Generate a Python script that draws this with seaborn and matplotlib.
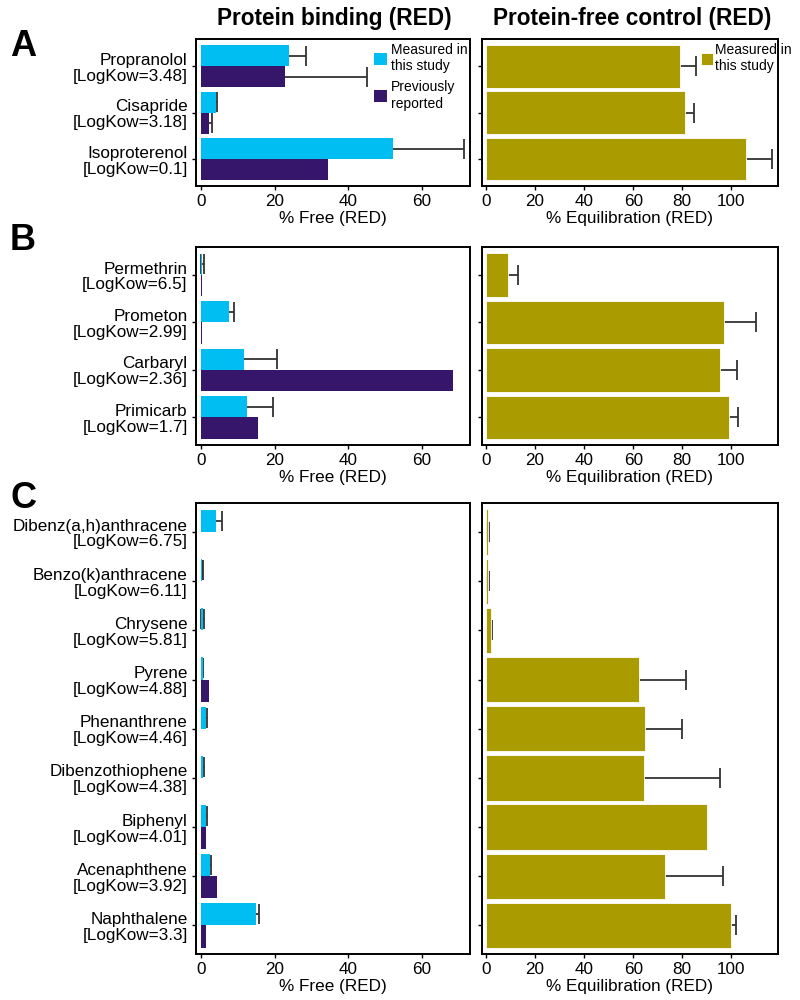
import numpy as np
import pandas as pd
import matplotlib
matplotlib.use("Agg")
import matplotlib.pyplot as plt
import seaborn as sns

sns.set_theme(style="ticks")
plt.rcParams['font.family'] = ['Liberation Sans', 'DejaVu Sans']
plt.rcParams['text.color'] = 'black'
plt.rcParams['axes.labelcolor'] = 'black'
plt.rcParams['xtick.color'] = 'black'
plt.rcParams['ytick.color'] = 'black'

nan = np.nan

# ---------------- data ----------------
A_names = ["Propranolol", "Cisapride", "Isoproterenol"]
A_logkow = ["3.48", "3.18", "0.1"]
A_meas = [23.8, 4.1, 52.0]
A_meas_err = [4.8, 0.3, 19.4]
A_prev = [22.7, 2.2, 34.6]
A_prev_err = [22.3, 0.8, nan]
A_equil = [79.2, 81.2, 106.0]
A_equil_err = [6.5, 3.7, 10.6]

B_names = ["Permethrin", "Prometon", "Carbaryl", "Primicarb"]
B_logkow = ["6.5", "2.99", "2.36", "1.7"]
B_meas = [0.4, 7.6, 11.6, 12.6]
B_meas_err = [0.4, 1.4, 9.0, 7.1]
B_prev = [0.2, 0.2, 68.4, 15.6]
B_prev_err = [nan, nan, nan, nan]
B_equil = [9.1, 97.1, 95.5, 99.2]
B_equil_err = [3.8, 12.9, 6.8, 3.5]

C_names = ["Dibenz(a,h)anthracene", "Benzo(k)anthracene", "Chrysene", "Pyrene",
           "Phenanthrene", "Dibenzothiophene", "Biphenyl", "Acenaphthene", "Naphthalene"]
C_logkow = ["6.75", "6.11", "5.81", "4.88", "4.46", "4.38", "4.01", "3.92", "3.3"]
C_meas = [4.0, 0.4, 0.5, 0.5, 1.3, 0.5, 1.4, 2.4, 15.0]
C_meas_err = [1.8, 0.2, 0.5, 0.2, 0.3, 0.3, 0.3, 0.4, 0.7]
C_prev = [nan, nan, nan, 2.3, nan, nan, 1.5, 4.5, 1.5]
C_prev_err = [nan, nan, nan, nan, nan, nan, nan, nan, nan]
C_equil = [1.0, 0.8, 1.9, 62.4, 64.8, 64.4, 90.1, 72.8, 99.9]
C_equil_err = [0.4, 0.3, 0.6, 19.1, 14.9, 31.1, nan, 23.6, 2.0]

SOURCES = ["Measured in\nthis study", "Previously\nreported"]
LEFT_TICKS = [0, 20, 40, 60]
RIGHT_TICKS = [0, 20, 40, 60, 80, 100]

CYAN = "#00BEF2"
PURPLE = "#35166B"
OLIVE = "#AA9B00"
ERRC = "#333333"

fig = plt.figure(figsize=(8, 10), dpi=100)
fig.patch.set_facecolor("white")


def px_axes(x0, x1, top, bottom):
    return fig.add_axes([x0 / 800, 1 - bottom / 1000, (x1 - x0) / 800, (bottom - top) / 1000])


def style_axes(ax, n):
    for s in ax.spines.values():
        s.set_visible(True)
        s.set_color("black")
        s.set_linewidth(1.4)
    ax.tick_params(axis="both", direction="out", length=3, width=1, colors="black",
                   labelsize=12.3, pad=3)
    ax.set_ylim(n - 1 + 0.58, -0.59)
    ax.set_ylabel("")
    ax.set_facecolor("white")


def add_errors(ax, df, hue_levels):
    for cont, hue in zip(ax.containers, hue_levels):
        for p in cont.patches:
            w = p.get_width()
            yc = p.get_y() + p.get_height() / 2
            if not np.isfinite(w):
                continue
            idx = int(round(yc))
            row = df[(df["idx"] == idx) & (df["source"] == hue)]
            if row.empty:
                continue
            e = row["err"].values[0]
            if np.isfinite(e):
                ax.errorbar(w, yc, xerr=e, fmt="none", ecolor=ERRC, elinewidth=1.3,
                            capsize=7, capthick=1.3, zorder=0.9)


panels = [
    ("A", A_names, A_logkow, A_meas, A_meas_err, A_prev, A_prev_err, A_equil, A_equil_err, 39, 186, 46),
    ("B", B_names, B_logkow, B_meas, B_meas_err, B_prev, B_prev_err, B_equil, B_equil_err, 247, 445, 240),
    ("C", C_names, C_logkow, C_meas, C_meas_err, C_prev, C_prev_err, C_equil, C_equil_err, 503, 954, 499),
]

for (letter, names, logkow, meas, meas_err, prev, prev_err, equil, equil_err,
     top, bottom, ly) in panels:
    n = len(names)
    labels = [f"{nm}\n[LogKow={k}]" for nm, k in zip(names, logkow)]

    # ---- left: protein binding ----
    df_left = pd.DataFrame({
        "compound": labels * 2,
        "idx": list(range(n)) * 2,
        "source": [SOURCES[0]] * n + [SOURCES[1]] * n,
        "value": list(meas) + list(prev),
        "err": list(meas_err) + list(prev_err),
    })
    axL = px_axes(196, 470, top, bottom)
    sns.barplot(data=df_left, x="value", y="compound", hue="source", order=labels,
                hue_order=SOURCES, palette=[CYAN, PURPLE], saturation=1, orient="h",
                width=0.9, errorbar=None, linewidth=0, legend=(letter == "A"), ax=axL)
    add_errors(axL, df_left, SOURCES)
    style_axes(axL, n)
    axL.set_xlim(-1.3, 73)
    axL.set_xticks(LEFT_TICKS)
    axL.set_xlabel("% Free (RED)", fontsize=12.3, labelpad=1)
    for t in axL.get_yticklabels():
        t.set_linespacing(1.08)
        t.set_fontsize(12.3)
    if letter == "A":
        leg = axL.get_legend()
        handles = leg.legend_handles
        labs = [t.get_text() for t in leg.get_texts()]
        axL.legend(handles, labs, loc="upper left", bbox_to_anchor=(0.635, 1.0),
                   frameon=False, fontsize=10,
                   handlelength=0.9, handleheight=0.9, handletextpad=0.3,
                   labelspacing=0.5, borderaxespad=0.0, borderpad=0.3)

    # ---- right: protein-free control ----
    df_right = pd.DataFrame({
        "compound": labels,
        "idx": list(range(n)),
        "source": [SOURCES[0]] * n,
        "value": equil,
        "err": equil_err,
    })
    axR = px_axes(482, 778, top, bottom)
    sns.barplot(data=df_right, x="value", y="compound", hue="source", order=labels,
                hue_order=[SOURCES[0]], palette=[OLIVE], saturation=1, orient="h",
                width=0.92, errorbar=None, edgecolor="white", linewidth=0.6,
                legend=(letter == "A"), ax=axR)
    add_errors(axR, df_right, [SOURCES[0]])
    style_axes(axR, n)
    axR.set_xlim(-1.6, 119)
    axR.set_xticks(RIGHT_TICKS)
    axR.tick_params(axis="y", labelleft=False)
    axR.set_xlabel("% Equilibration (RED)", fontsize=12.3, labelpad=1)
    if letter == "A":
        leg = axR.get_legend()
        handles = leg.legend_handles
        labs = [t.get_text() for t in leg.get_texts()]
        axR.legend(handles, labs, loc="upper left", bbox_to_anchor=(0.725, 1.0),
                   frameon=False, fontsize=10,
                   handlelength=0.9, handleheight=0.9, handletextpad=0.15,
                   labelspacing=0.5, borderaxespad=0.0, borderpad=0.3)

    fig.text(23 / 800, 1 - ly / 1000, letter, fontsize=26, fontweight="bold",
             ha="center", va="center")

fig.text(334 / 800, 1 - 18 / 1000, "Protein binding (RED)", fontsize=16.3,
         fontweight="bold", ha="center", va="center")
fig.text(632 / 800, 1 - 18 / 1000, "Protein-free control (RED)", fontsize=16.3,
         fontweight="bold", ha="center", va="center")

fig.savefig("out.png", dpi=100, facecolor="white")
